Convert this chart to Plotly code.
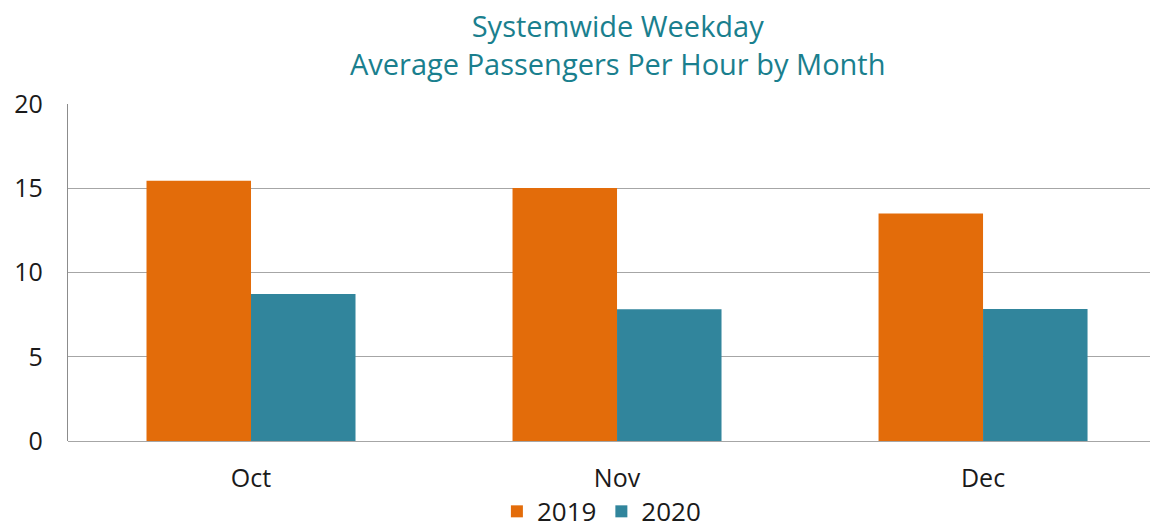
import plotly.graph_objects as go

months = ["Oct", "Nov", "Dec"]
values_2019 = [15.45, 15.02, 13.5]
values_2020 = [8.72, 7.82, 7.84]
y_ticks = [0, 5, 10, 15, 20]

ORANGE = "#E36C0A"
TEAL = "#31859C"
FONT = "Open Sans, Noto Sans, sans-serif"

fig = go.Figure()
fig.add_trace(go.Bar(x=months, y=values_2019, name="2019", marker_color=ORANGE,
                     marker_line_width=0))
fig.add_trace(go.Bar(x=months, y=values_2020, name="2020", marker_color=TEAL,
                     marker_line_width=0))

fig.update_layout(
    width=1150, height=519,
    margin=dict(l=60, r=0, t=96, b=85.5),
    paper_bgcolor="white", plot_bgcolor="white",
    barmode="group", bargap=0.429, bargroupgap=0,
    font=dict(family=FONT, color="#1a1a1a", size=25),
    showlegend=True,
    legend=dict(orientation="h", xref="container", x=0.516, xanchor="center",
                yref="container", y=0.03, yanchor="middle",
                font=dict(size=26, color="#1a1a1a"), itemwidth=30,
                traceorder="normal", tracegroupgap=0),
    annotations=[dict(
        text="Systemwide Weekday<br>Average Passengers Per Hour by Month",
        xref="paper", yref="paper", x=0.5046, y=1.178,
        xanchor="center", yanchor="middle", showarrow=False, align="center",
        font=dict(family=FONT, size=29, color="#1A7F8E"),
    )],
)
fig.update_xaxes(
    type="category", range=[-0.5, 2.478], automargin=False,
    showline=False, showgrid=False, ticks="",
    tickfont=dict(size=25), ticklabelstandoff=20,
)
fig.update_yaxes(
    range=[0, 20], tickvals=y_ticks, automargin=False,
    showgrid=True, gridcolor="#A6A6A6", gridwidth=1.3,
    showline=True, linecolor="#8C8C8C", linewidth=1.3,
    zeroline=True, zerolinecolor="#A6A6A6", zerolinewidth=1.3,
    ticks="", tickfont=dict(size=25), ticklabelstandoff=19,
)

fig.write_html("out.html")
